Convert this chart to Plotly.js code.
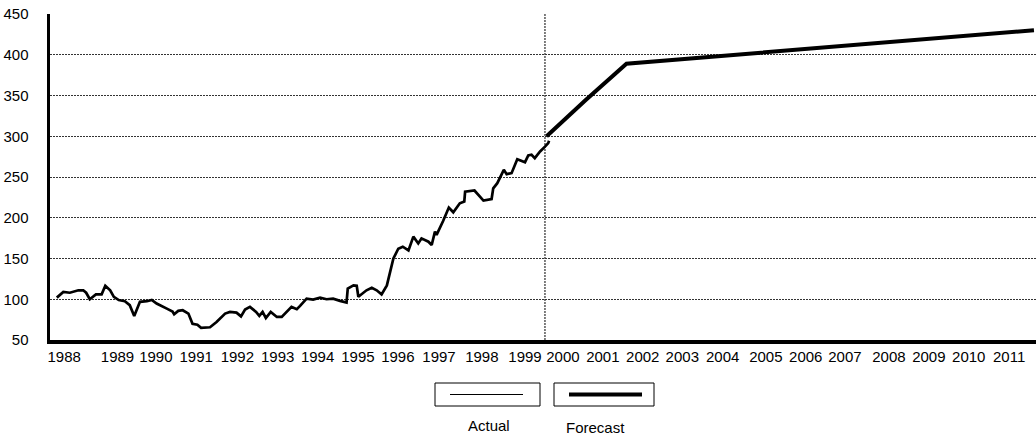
<!DOCTYPE html>
<html>
<head>
<meta charset="utf-8">
<script src="https://cdn.plot.ly/plotly-3.0.1.min.js"></script>
<style>
  html, body { margin: 0; padding: 0; background: #ffffff; }
  #chart { width: 1036px; height: 436px; }
</style>
</head>
<body>
<div id="chart"></div>
<script>
// ---- Data ----
const actualYears = [
  1988.02,1988.18,1988.34,1988.55,1988.67,1988.74,1988.83,1988.98,1989.12,1989.21,
  1989.33,1989.42,1989.54,1989.69,1989.81,1989.92,1990.06,1990.23,1990.35,1990.47,
  1990.72,1990.86,1990.90,1991.00,1991.11,1991.25,1991.35,1991.47,1991.56,1991.78,
  1991.94,1992.15,1992.27,1992.43,1992.54,1992.64,1992.76,1992.91,1992.99,1993.07,
  1993.15,1993.27,1993.42,1993.54,1993.78,1993.91,1993.99,1994.15,1994.31,1994.48,
  1994.64,1994.80,1994.97,1995.13,1995.16,1995.30,1995.38,1995.42,1995.62,1995.75,
  1995.87,1995.99,1996.12,1996.28,1996.40,1996.51,1996.65,1996.77,1996.89,1996.97,
  1997.14,1997.22,1997.30,1997.34,1997.50,1997.64,1997.75,1997.91,1998.02,1998.04,
  1998.27,1998.49,1998.69,1998.73,1998.83,1998.94,1998.99,1999.06,1999.18,1999.32,
  1999.51,1999.59,1999.67,1999.75,1999.88,2000.00,2000.08,2000.10
];
const actualValues = [
  102,109,108,111,111,108,100,106,106,116.5,
  111,103,99,97.6,92.7,79.5,96.8,97.6,99.2,94.7,
  88.5,85,81.6,85.7,86.5,82.4,70,68.8,65,65.6,
  72,82.4,84.5,83.6,79,87.3,90.6,84.5,79.5,84.5,
  77,84.5,78.3,78.3,90.6,87.8,91.8,100.8,99.6,102,
  100,100.8,98,96,113,117,116.5,103,111,114,
  111,106,117,150,162,164.5,160,176.8,168.5,174.7,
  170.6,166.5,183,179,196,212.5,206.7,217.8,220,232,
  233.4,221,223,236,242.4,254.7,258.8,253.5,254.7,271.9,
  268.2,276.5,277.3,273.2,281.4,287.2,291.6,294.5
];
const forecastYears  = [2000.04, 2001, 2002, 2003, 2004, 2005, 2006, 2007, 2008, 2009, 2010, 2011, 2012];
const forecastValues = [300, 344.5, 389, 393.1, 397.2, 401.3, 405.4, 409.5, 413.6, 417.7, 421.8, 425.9, 430];
const forecastStart = 2000;

const tickLabels = ["1988","1989","1990","1991","1992","1993","1994","1995","1996","1997","1998","1999",
                    "2000","2001","2002","2003","2004","2005","2006","2007","2008","2009","2010","2011"];
const tickPlaces = [1988.20,1989.51,1990.45,1991.44,1992.45,1993.44,1994.42,1995.41,1996.39,1997.40,1998.45,1999.51,
                    2000.44,2001.42,2002.40,2003.37,2004.36,2005.42,2006.40,2007.36,2008.44,2009.42,2010.40,2011.39];
const yTicks = [50,100,150,200,250,300,350,400,450];
const seriesNames = ["Actual", "Forecast"];

// ---- Layout geometry ----
const W = 1036, H = 436;
const M = {l: 50, r: 0, t: 14, b: 96};
const plotW = W - M.l - M.r, plotH = H - M.t - M.b;
const px2x = p => (p - M.l) / plotW;
const px2y = p => (H - M.b - p) / plotH;
const FONT = "'Liberation Sans', Arial, sans-serif";
const FS = 15;

const traces = [
  {x: actualYears, y: actualValues, type: "scatter", mode: "lines", name: seriesNames[0],
   line: {color: "#000000", width: 2.7}, showlegend: false, hoverinfo: "x+y"},
  {x: forecastYears, y: forecastValues, type: "scatter", mode: "lines", name: seriesNames[1],
   line: {color: "#000000", width: 4}, showlegend: false, hoverinfo: "x+y"}
];

// Legend drawn as boxes with text beneath (as in the reference)
const shapes = [
  {type: "line", xref: "x", yref: "paper", x0: forecastStart, x1: forecastStart, y0: 0, y1: 1,
   line: {color: "#000000", width: 1, dash: "2px,1px"}, layer: "below"},
  {type: "rect", xref: "paper", yref: "paper", x0: px2x(435), x1: px2x(540), y0: px2y(383), y1: px2y(406),
   line: {color: "#000000", width: 1}, fillcolor: "#ffffff"},
  {type: "line", xref: "paper", yref: "paper", x0: px2x(450), x1: px2x(523), y0: px2y(394.5), y1: px2y(394.5),
   line: {color: "#000000", width: 1}},
  {type: "rect", xref: "paper", yref: "paper", x0: px2x(554), x1: px2x(654), y0: px2y(383), y1: px2y(406),
   line: {color: "#000000", width: 1}, fillcolor: "#ffffff"},
  {type: "line", xref: "paper", yref: "paper", x0: px2x(569), x1: px2x(642), y0: px2y(394.5), y1: px2y(394.5),
   line: {color: "#000000", width: 4}}
];
const annotations = [
  {xref: "paper", yref: "paper", x: px2x(489), y: px2y(425), text: seriesNames[0], showarrow: false,
   xanchor: "center", yanchor: "middle", font: {family: FONT, size: FS, color: "#000000"}},
  {xref: "paper", yref: "paper", x: px2x(595), y: px2y(427), text: seriesNames[1], showarrow: false,
   xanchor: "center", yanchor: "middle", font: {family: FONT, size: FS, color: "#000000"}}
];

const layout = {
  width: W, height: H,
  margin: M,
  paper_bgcolor: "#ffffff", plot_bgcolor: "#ffffff",
  font: {family: FONT, size: FS, color: "#000000"},
  showlegend: false,
  xaxis: {
    range: [1987.853, 2012.05], showgrid: false, zeroline: false,
    tickmode: "array", tickvals: tickPlaces, ticktext: tickLabels, ticks: "",
    tickangle: 0, ticklabelstandoff: 0, ticklabeloverflow: "allow",
    showline: true, linecolor: "#000000", linewidth: 3.5,
    tickfont: {family: FONT, size: FS, color: "#000000"}
  },
  yaxis: {
    range: [50, 450], tickmode: "array", tickvals: yTicks, ticks: "",
    ticklabelstandoff: 15,
    showgrid: true, gridcolor: "#333333", gridwidth: 1, griddash: "2px,1px",
    zeroline: false, showline: true, linecolor: "#000000", linewidth: 3.5,
    tickfont: {family: FONT, size: FS, color: "#000000"}
  },
  shapes: shapes,
  annotations: annotations
};

Plotly.newPlot("chart", traces, layout, {displayModeBar: false, staticPlot: true});
</script>
</body>
</html>
